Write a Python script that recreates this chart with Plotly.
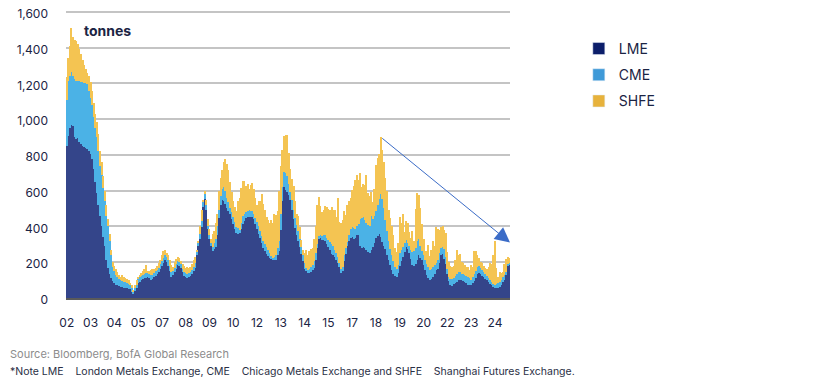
import plotly.graph_objects as go

# Monthly stocks, Jan 2002 onward (tonnes)
LME = [850,905,950,970,960,900,890,895,875,860,850,845,840,835,825,805,780,720,650,590,
       520,460,400,340,290,215,170,135,110,95,85,75,70,65,62,60,58,58,55,52,48,35,22,40,58,
       82,91,100,104,110,113,118,112,102,105,115,125,132,145,162,180,195,210,200,180,
       150,120,130,145,165,183,178,168,145,125,117,112,118,124,135,150,170,240,290,330,
       395,510,555,495,385,330,290,
       265,275,283,350,445,520,548,540,525,505,485,468,440,415,388,362,360,362,385,412,
       430,450,455,455,455,455,440,415,388,360,335,310,282,265,248,235,222,217,213,213,
       213,240,262,380,545,620,
       605,595,575,550,490,440,390,355,320,285,248,205,160,150,140,142,146,155,170,215,
       280,330,335,325,325,318,300,283,268,248,242,230,212,195,175,142,150,205,245,290,
       318,338,340,330,335,350,355,
       290,280,285,278,268,260,250,268,285,310,338,348,358,340,315,290,272,238,210,185,
       158,135,125,120,140,177,205,230,258,284,272,254,220,185,180,190,215,240,225,210,
       185,157,130,110,102,105,120,137,157,
       165,195,240,245,220,190,135,95,72,68,76,85,92,100,101,100,97,91,82,74,
       73,73,85,97,112,135,140,133,122,115,105,98,88,80,70,62,55,54,55,64,
       73,87,100,130,180,185]

CME = [255,310,290,295,280,325,325,320,340,350,360,360,365,360,335,315,300,290,300,310,
       300,280,290,275,250,245,230,185,130,80,65,55,50,40,38,35,34,30,30,28,24,20,13,15,17,
       23,24,22,24,25,27,24,23,26,25,25,25,26,25,26,25,27,28,28,30,
       28,25,20,23,25,25,22,22,20,20,21,20,20,21,23,22,25,22,20,30,
       35,25,25,25,20,20,15,
       20,30,47,50,45,50,64,80,75,55,50,37,40,37,37,36,30,20,35,48,
       40,30,32,35,33,30,30,35,37,40,37,35,38,35,37,33,28,19,11,19,
       27,40,58,90,75,85,
       95,90,60,45,60,55,57,55,55,45,37,35,36,20,18,23,26,30,35,35,
       20,18,15,23,30,37,38,39,47,55,48,38,38,37,22,18,22,35,35,25,
       32,47,55,60,50,55,60,
       150,165,167,157,150,148,150,192,155,150,147,172,197,240,240,215,166,137,110,90,
       82,70,50,40,45,73,63,57,47,38,38,36,50,70,82,90,105,90,65,55,
       55,55,60,62,56,58,55,48,37,
       50,55,40,40,52,40,30,25,36,37,36,37,40,46,42,37,38,38,42,45,
       37,30,30,35,38,40,40,37,33,30,27,27,24,20,18,18,18,22,27,28,
       28,28,28,15,10,10]

SHFE = [130,130,170,245,220,220,225,205,175,155,120,100,75,65,80,90,80,80,80,85,
        100,80,70,65,60,60,40,40,30,25,30,30,25,25,20,33,26,22,20,20,13,15,10,17,25,
        15,14,16,22,30,45,8,15,27,30,25,20,22,25,27,35,43,30,22,28,
        34,40,26,32,30,22,24,16,25,33,32,40,32,30,32,38,35,8,10,40,
        65,15,20,28,35,35,25,
        73,70,90,70,110,100,103,140,180,190,180,145,115,93,85,87,155,176,195,195,
        182,148,151,120,142,157,140,110,95,145,168,235,205,190,167,167,168,200,196,238,
        225,208,280,270,210,200,
        210,225,175,125,115,130,93,62,85,65,40,30,56,98,85,100,104,97,125,150,
        220,217,165,132,135,160,172,178,180,207,202,222,205,328,228,258,262,245,185,205,
        190,177,210,235,275,285,245,
        260,175,188,195,272,178,168,133,95,150,260,265,250,320,275,255,232,225,170,173,
        165,145,105,95,120,203,152,185,63,110,110,80,65,120,58,220,270,245,215,150,
        90,50,75,123,77,107,145,105,201,
        170,132,118,115,106,135,95,80,72,70,68,93,138,97,102,65,58,56,51,56,
        48,79,61,133,112,63,45,30,38,35,36,35,60,98,102,160,247,94,38,54,
        37,32,64,75,40,30]

START_YEAR = 2002
MONTHS = [f"{START_YEAR + k // 12}-{k % 12 + 1:02d}" for k in range(len(LME))]
TICK_LABELS = ["02","03","04","05","07","08","09","10","12","13","14","15",
               "17","18","19","20","22","23","24"]
TICK_STEP = 15
TICK_VALS = MONTHS[::TICK_STEP][:len(TICK_LABELS)]

Y_TICKS = [0, 200, 400, 600, 800, 1000, 1200, 1400, 1600]

FONT = "Inter, Lato, Arial, sans-serif"
NAVY_TXT = "#1b2444"
GRID = "#c4c4c4"

series = [("LME", LME, "#34458a", "#0c1e6a"),
          ("CME", CME, "#4bb2e6", "#3f9ad8"),
          ("SHFE", SHFE, "#f4c452", "#e7b23c")]

fig = go.Figure()
for name, vals, bar_col, leg_col in series:
    fig.add_trace(go.Bar(x=MONTHS, y=vals, name=name, marker_color=bar_col,
                         marker_line_width=0, showlegend=False))
for name, vals, bar_col, leg_col in series:
    fig.add_trace(go.Bar(x=[MONTHS[0]], y=[None], name=name, marker_color=leg_col,
                         legendgroup=name, showlegend=True))

# top gridline (the axis grid omits the line nearest the plot edge)
fig.add_shape(type="line", xref="paper", yref="y", x0=0, x1=1,
              y0=Y_TICKS[-1], y1=Y_TICKS[-1], line=dict(color=GRID, width=2), layer="below")

peak_idx = 198
fig.add_annotation(x=len(MONTHS) - 0.5, y=310, ax=peak_idx, ay=900,
                   xref="x", yref="y", axref="x", ayref="y",
                   showarrow=True, arrowhead=2, arrowsize=3, arrowwidth=1,
                   arrowcolor="#3b6cc7", text="")

fig.add_annotation(text="<b>tonnes</b>", x=0.036, y=0.922, xref="paper", yref="paper",
                   xanchor="left", yanchor="middle", showarrow=False,
                   font=dict(size=14, color=NAVY_TXT, family=FONT))
fig.add_annotation(text="Source: Bloomberg, BofA Global Research",
                   x=-0.131, y=-0.193, xref="paper", yref="paper",
                   xanchor="left", yanchor="middle", showarrow=False,
                   font=dict(size=11, color="#8c8c8c", family=FONT))
fig.add_annotation(text="*Note LME&nbsp;&nbsp;&nbsp; London Metals Exchange, CME&nbsp;&nbsp;&nbsp; Chicago Metals Exchange and SHFE&nbsp;&nbsp;&nbsp; Shanghai Futures Exchange.",
                   x=-0.131, y=-0.255, xref="paper", yref="paper",
                   xanchor="left", yanchor="middle", showarrow=False,
                   font=dict(size=10.5, color="#2a2f45", family=FONT))

fig.update_layout(
    width=816, height=378,
    margin=dict(l=58, r=314, t=0, b=88, autoexpand=False),
    barmode="stack", bargap=0.3,
    plot_bgcolor="white", paper_bgcolor="white",
    font=dict(family=FONT, color=NAVY_TXT, size=12),
    legend=dict(x=1.155, y=0.914, xanchor="left", yanchor="top",
                font=dict(size=14, color=NAVY_TXT, family=FONT),
                tracegroupgap=5, bgcolor="rgba(0,0,0,0)"),
    xaxis=dict(type="category", tickmode="array", tickvals=TICK_VALS, ticktext=TICK_LABELS,
               tickangle=0, showgrid=False, ticks="", showline=True, linecolor="#5a5a5a",
               linewidth=1.5, range=[-0.5, len(MONTHS) - 0.5], ticklabelstandoff=13,
               automargin=False, tickfont=dict(size=12, color=NAVY_TXT)),
    yaxis=dict(range=[0, 1622], tickvals=Y_TICKS, tickformat=",d", showgrid=True,
               gridcolor=GRID, gridwidth=2, zeroline=False, ticks="",
               ticklabeloverflow="allow", automargin=False, ticklabelshift=2,
               ticklabelstandoff=17, tickfont=dict(size=12, color=NAVY_TXT)),
)

fig.write_html("out.html")
